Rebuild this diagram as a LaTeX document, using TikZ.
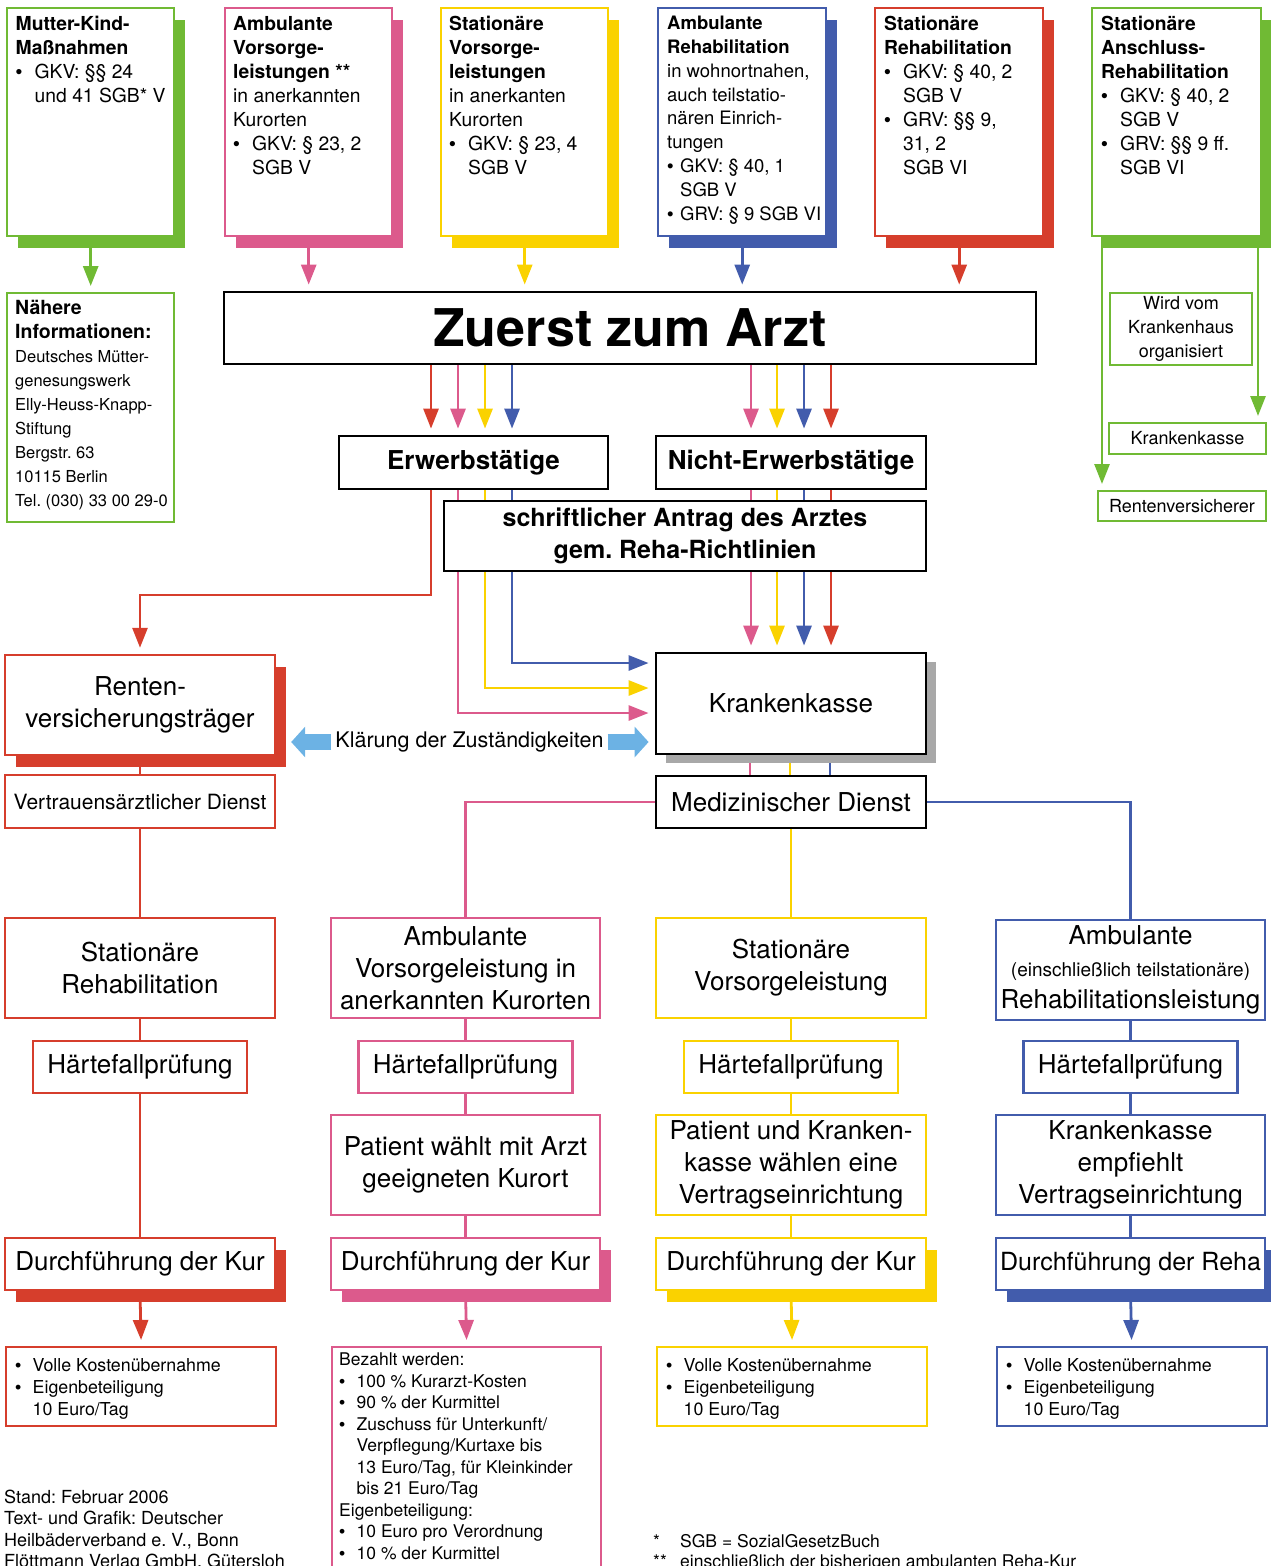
\documentclass[tikz,border=0pt]{standalone}
\usepackage{fontspec}
\setmainfont{TeX Gyre Heros}
\newfontfamily\punktfont{Liberation Sans}
\usetikzlibrary{arrows.meta,shadows,backgrounds}
\frenchspacing

\definecolor{gruen}{RGB}{112,186,52}
\definecolor{rosa}{RGB}{220,90,140}
\definecolor{gelb}{RGB}{250,210,0}
\definecolor{blau}{RGB}{66,92,172}
\definecolor{rot}{RGB}{214,62,44}
\definecolor{hellblau}{RGB}{108,178,228}
\definecolor{grau}{RGB}{168,168,168}

\begin{document}
\begin{tikzpicture}[x=1pt, y=-1pt,
    kasten/.style={draw=#1, line width=2.4pt, fill=white, inner sep=0pt},
    schwarz/.style={draw=black, line width=2.8pt, fill=white, inner sep=0pt},
    schatten/.style={drop shadow={shadow xshift=11pt, shadow yshift=-12pt, fill=#1, opacity=1}},
    obenbox/.style={minimum width=167pt, minimum height=228pt, anchor=north west},
    pfeil/.style={draw=#1, line width=2.8pt, shorten >=6pt, -{Triangle[width=15pt,length=20pt]}},
    linie/.style={draw=#1, line width=2.8pt},
    doppel/.style={draw=hellblau, line width=16pt, -{Triangle[width=30pt,length=14pt]}},
    oben/.style={font=\fontsize{19.3}{24}\selectfont, align=left, inner sep=0pt, anchor=north west},
    klein/.style={font=\fontsize{17.8}{22}\selectfont, align=left, inner sep=0pt, anchor=north west},
    gross/.style={font=\fontsize{26}{32}\selectfont, align=center}]

    % punkte und einzuege
    \def\pkt{\makebox[19pt][l]{\punktfont •}}
    \def\einr{\hspace*{19pt}}
    \def\pk{\makebox[17.5pt][l]{\punktfont •}}
    \def\ek{\hspace*{17.5pt}}
    \def\fett#1{{\fontsize{19.5}{24}\selectfont\bfseries #1}}

    % rahmen
    \useasboundingbox (0,0) rectangle (1271,1566);
    \clip (0,0) rectangle (1271,1566);

    % obere reihe
    \node[kasten=gruen, schatten=gruen, obenbox] (mk) at (6,7) {};
    \node[kasten=rosa, schatten=rosa, obenbox] (avl) at (224,7) {};
    \node[kasten=gelb, schatten=gelb, obenbox] (svl) at (440,7) {};
    \node[kasten=blau, schatten=blau, obenbox, minimum width=168pt] (ar) at (657,7) {};
    \node[kasten=rot, schatten=rot, obenbox, minimum width=168pt] (sr) at (874,7) {};
    \node[kasten=gruen, schatten=gruen, obenbox, minimum width=169pt] (sar) at (1091,7) {};

    \node[oben] (mkt) at (15.5,16) {\textbf{Mutter-Kind-}\\\textbf{Maßnahmen}\\\pkt GKV: §§ 24\\\einr und 41 SGB* V};
    \node[oben] (avlt) at (233,16) {\textbf{Ambulante}\\\textbf{Vorsorge-}\\\textbf{leistungen **}\\in anerkannten\\Kurorten\\\pkt GKV: § 23, 2\\\einr SGB V};
    \node[oben] (svlt) at (449,16) {\textbf{Stationäre}\\\textbf{Vorsorge-}\\\textbf{leistungen}\\in anerkanten\\Kurorten\\\pkt GKV: § 23, 4\\\einr SGB V};
    \node[oben, font=\fontsize{18.5}{23.8}\selectfont] (art) at (667,16) {\textbf{Ambulante}\\\textbf{Rehabilitation}\\in wohnortnahen,\\auch teilstatio-\\nären Einrich-\\tungen\\\makebox[13pt][l]{\punktfont •}GKV: § 40, 1\\\hspace*{13pt}SGB V\\\makebox[13pt][l]{\punktfont •}GRV: § 9 SGB VI};
    \node[oben] (srt) at (884,16) {\textbf{Stationäre}\\\textbf{Rehabilitation}\\\pkt GKV: § 40, 2\\\einr SGB V\\\pkt GRV: §§ 9,\\\einr 31, 2\\\einr SGB VI};
    \node[oben] (sart) at (1101,16) {\textbf{Stationäre}\\\textbf{Anschluss-}\\\textbf{Rehabilitation}\\\pkt GKV: § 40, 2\\\einr SGB V\\\pkt GRV: §§ 9 ff.\\\einr SGB VI};

    % hinweis links
    \node[kasten=gruen, minimum width=167pt, minimum height=229pt, anchor=north west] (nae) at (6,292) {};
    \node[klein, font=\fontsize{16.5}{24}\selectfont] (naet) at (15,300) {\fett{Nähere}\\\fett{Informationen:}\\Deutsches Mütter-\\genesungswerk\\Elly-Heuss-Knapp-\\Stiftung\\Bergstr. 63\\10115 Berlin\\Tel. (030) 33 00 29-0};

    % anschlussreha rechts
    \node[kasten=gruen, line width=2pt, minimum width=142pt, minimum height=72pt, font=\fontsize{18}{24}\selectfont, align=center] (wvk) at (1181,329) {Wird vom\\Krankenhaus\\organisiert};
    \node[kasten=gruen, line width=2pt, minimum width=157pt, minimum height=31pt, font=\fontsize{18}{22}\selectfont] (kk2) at (1187.5,438.5) {Krankenkasse};
    \node[kasten=gruen, line width=2pt, minimum width=168pt, minimum height=30pt, font=\fontsize{18}{22}\selectfont] (rvs) at (1182,506) {Rentenversicherer};

    % arzt und antrag
    \node[schwarz, minimum width=812pt, minimum height=72pt, font=\fontsize{52}{60}\selectfont\bfseries] (arzt) at (630,328) {Zuerst zum Arzt};
    \node[schwarz, minimum width=269pt, minimum height=53pt, font=\fontsize{26}{32}\selectfont\bfseries] (erw) at (473.5,462.5) {Erwerbstätige};
    \node[schwarz, minimum width=270pt, minimum height=53pt, font=\fontsize{26}{32}\selectfont\bfseries] (nerw) at (791,462.5) {Nicht-Erwerbstätige};
    \node[schwarz, minimum width=482pt, minimum height=70pt, font=\fontsize{25}{32}\selectfont\bfseries, align=center] (antrag) at (685,536) {schriftlicher Antrag des Arztes\\gem. Reha-Richtlinien};

    % traeger
    \node[kasten=rot, schatten=rot, gross, minimum width=270pt, minimum height=100pt] (rv) at (140,705) {Renten-\\versicherungsträger};
    \node[schwarz, gross, minimum width=270pt, minimum height=101pt, drop shadow={shadow xshift=10pt, shadow yshift=-9pt, fill=grau, opacity=1}] (kk) at (791,703.5) {Krankenkasse};
    \node[font=\fontsize{21.5}{26}\selectfont, inner xsep=4pt] (klaer) at (469.5,742) {Klärung der Zuständigkeiten};
    \node[kasten=rot, minimum width=270pt, minimum height=53pt, font=\fontsize{21}{26}\selectfont] (vd) at (140,801.5) {Vertrauensärztlicher Dienst};
    \node[schwarz, gross, minimum width=270pt, minimum height=52pt] (md) at (791,802) {Medizinischer Dienst};

    % leistungen
    \node[kasten=rot, gross, minimum width=270pt, minimum height=100pt] (srb) at (140,968) {Stationäre\\Rehabilitation};
    \node[kasten=rosa, gross, minimum width=269pt, minimum height=100pt] (avk) at (465.5,968) {Ambulante\\Vorsorgeleistung in\\anerkannten Kurorten};
    \node[kasten=gelb, gross, minimum width=270pt, minimum height=100pt] (svk) at (791,968) {Stationäre\\Vorsorgeleistung};
    \node[kasten=blau, gross, minimum width=269pt, minimum height=100pt] (arl) at (1130.5,970) {Ambulante\\{\fontsize{19}{32}\selectfont(einschließlich teilstationäre)}\\Rehabilitationsleistung};

    % haertefall
    \node[kasten=rot, gross, minimum width=214pt, minimum height=52pt] (h1) at (140,1067) {Härtefallprüfung};
    \node[kasten=rosa, gross, minimum width=214pt, minimum height=52pt] (h2) at (465.5,1067) {Härtefallprüfung};
    \node[kasten=gelb, gross, minimum width=214pt, minimum height=52pt] (h3) at (791,1067) {Härtefallprüfung};
    \node[kasten=blau, gross, minimum width=214pt, minimum height=52pt] (h4) at (1130.5,1067) {Härtefallprüfung};

    % auswahl
    \node[kasten=rosa, gross, minimum width=269pt, minimum height=100pt] (pw) at (465.5,1165) {Patient wählt mit Arzt\\geeigneten Kurort};
    \node[kasten=gelb, gross, minimum width=270pt, minimum height=100pt] (pk) at (791,1165) {Patient und Kranken-\\kasse wählen eine\\Vertragseinrichtung};
    \node[kasten=blau, gross, minimum width=269pt, minimum height=100pt] (ke) at (1130.5,1165) {Krankenkasse\\empfiehlt\\Vertragseinrichtung};

    % durchfuehrung
    \node[kasten=rot, schatten=rot, gross, minimum width=270pt, minimum height=52pt] (d1) at (140,1264) {Durchführung der Kur};
    \node[kasten=rosa, schatten=rosa, gross, minimum width=269pt, minimum height=52pt] (d2) at (465.5,1264) {Durchführung der Kur};
    \node[kasten=gelb, schatten=gelb, gross, minimum width=270pt, minimum height=52pt] (d3) at (791,1264) {Durchführung der Kur};
    \node[kasten=blau, schatten=blau, gross, font=\fontsize{25}{32}\selectfont, minimum width=269pt, minimum height=52pt] (d4) at (1130.5,1264) {Durchführung der Reha};

    % kosten
    \node[kasten=rot, minimum width=270pt, minimum height=79pt, anchor=north west] (e1) at (5,1346) {};
    \node[kasten=rosa, minimum width=269pt, minimum height=260pt, anchor=north west] (e2) at (331,1346) {};
    \node[kasten=gelb, minimum width=270pt, minimum height=79pt, anchor=north west] (e3) at (656,1346) {};
    \node[kasten=blau, minimum width=270pt, minimum height=79pt, anchor=north west] (e4) at (995.5,1346) {};

    \node[klein] (e1t) at (15,1358) {\pk Volle Kostenübernahme\\\pk Eigenbeteiligung\\\ek 10 Euro/Tag};
    \node[klein, font=\fontsize{17.5}{21.5}\selectfont] (e2t) at (339,1353) {Bezahlt werden:\\\pk 100 \% Kurarzt-Kosten\\\pk 90 \% der Kurmittel\\\pk Zuschuss für Unterkunft/\\\ek Verpflegung/Kurtaxe bis\\\ek 13 Euro/Tag, für Kleinkinder\\\ek bis 21 Euro/Tag\\Eigenbeteiligung:\\\pk 10 Euro pro Verordnung\\\pk 10 \% der Kurmittel};
    \node[klein] (e3t) at (666,1358) {\pk Volle Kostenübernahme\\\pk Eigenbeteiligung\\\ek 10 Euro/Tag};
    \node[klein] (e4t) at (1006,1358) {\pk Volle Kostenübernahme\\\pk Eigenbeteiligung\\\ek 10 Euro/Tag};

    % fussnoten
    \node[klein, font=\fontsize{18}{21.3}\selectfont] (stand) at (4,1490) {Stand: Februar 2006\\Text- und Grafik: Deutscher\\Heilbäderverband e. V., Bonn\\Flöttmann Verlag GmbH, Gütersloh};
    \node[klein, font=\fontsize{17.5}{20.5}\selectfont] (sgb) at (653,1534) {\makebox[27pt][l]{*}SGB = SozialGesetzBuch\\\makebox[27pt][l]{**}einschließlich der bisherigen ambulanten Reha-Kur};

    \begin{scope}[on background layer]
    % pfeile oben
    \draw[pfeil=gruen] (mk.south) -- (nae.north);
    \draw[pfeil=rosa] (avl.south) -- (avl.south |- arzt.north);
    \draw[pfeil=gelb] (svl.south) -- (svl.south |- arzt.north);
    \draw[pfeil=blau] (ar.south) -- (ar.south |- arzt.north);
    \draw[pfeil=rot] (sr.south) -- (sr.south |- arzt.north);
    \draw[pfeil=gruen] (1102,0 |- sar.south) -- (1102,0 |- rvs.north);
    \draw[pfeil=gruen] (1258,0 |- sar.south) -- (1258,0 |- kk2.north);

    % vom arzt
    \draw[pfeil=rot] (431,0 |- arzt.south) -- (431,0 |- erw.north);
    \draw[pfeil=rosa] (458,0 |- arzt.south) -- (458,0 |- erw.north);
    \draw[pfeil=gelb] (485,0 |- arzt.south) -- (485,0 |- erw.north);
    \draw[pfeil=blau] (512,0 |- arzt.south) -- (512,0 |- erw.north);
    \draw[pfeil=rosa] (751,0 |- arzt.south) -- (751,0 |- nerw.north);
    \draw[pfeil=gelb] (777,0 |- arzt.south) -- (777,0 |- nerw.north);
    \draw[pfeil=blau] (804,0 |- arzt.south) -- (804,0 |- nerw.north);
    \draw[pfeil=rot] (831,0 |- arzt.south) -- (831,0 |- nerw.north);

    % wege zu den traegern
    \draw[pfeil=rot] (431,0 |- erw.south) |- (rv.north |- 0,595) -- (rv.north);
    \draw[pfeil=rosa] (458,0 |- erw.south) |- (kk.west |- 0,713);
    \draw[pfeil=gelb] (485,0 |- erw.south) |- (kk.west |- 0,688);
    \draw[pfeil=blau] (512,0 |- erw.south) |- (kk.west |- 0,663);
    \draw[pfeil=rosa] (751,0 |- nerw.south) -- (751,0 |- kk.north);
    \draw[pfeil=gelb] (777,0 |- nerw.south) -- (777,0 |- kk.north);
    \draw[pfeil=blau] (804,0 |- nerw.south) -- (804,0 |- kk.north);
    \draw[pfeil=rot] (831,0 |- nerw.south) -- (831,0 |- kk.north);

    % zustaendigkeit
    \draw[doppel, shorten >=15pt] (klaer.west) -- (klaer.west -| rv.east);
    \draw[doppel, shorten >=6pt] (klaer.east) -- (klaer.east -| kk.west);

    % kasse zum dienst
    \draw[linie=rosa] (750,0 |- kk.south) -- (750,0 |- md.north);
    \draw[linie=gelb] (790,0 |- kk.south) -- (790,0 |- md.north);
    \draw[linie=blau] (830,0 |- kk.south) -- (830,0 |- md.north);
    \draw[linie=rosa] (md.west) -| (avk.north);
    \draw[linie=gelb] (md.south) -- (svk.north);
    \draw[linie=blau] (md.east) -| (arl.north);

    % spalten
    \draw[linie=rot] (rv.south) -- (vd.north);
    \draw[linie=rot] (vd.south) -- (srb.north);
    \draw[linie=rot] (srb.south) -- (h1.north);
    \draw[linie=rot] (h1.south) -- (d1.north);
    \draw[linie=rosa] (avk.south) -- (h2.north);
    \draw[linie=rosa] (h2.south) -- (pw.north);
    \draw[linie=rosa] (pw.south) -- (d2.north);
    \draw[linie=gelb] (svk.south) -- (h3.north);
    \draw[linie=gelb] (h3.south) -- (pk.north);
    \draw[linie=gelb] (pk.south) -- (d3.north);
    \draw[linie=blau] (arl.south) -- (h4.north);
    \draw[linie=blau] (h4.south) -- (ke.north);
    \draw[linie=blau] (ke.south) -- (d4.north);

    % zu den kosten
    \draw[pfeil=rot] (d1.south) -- (e1.north);
    \draw[pfeil=rosa] (d2.south) -- (e2.north);
    \draw[pfeil=gelb] (d3.south) -- (e3.north);
    \draw[pfeil=blau] (d4.south) -- (e4.north);
    \end{scope}
\end{tikzpicture}
\end{document}
